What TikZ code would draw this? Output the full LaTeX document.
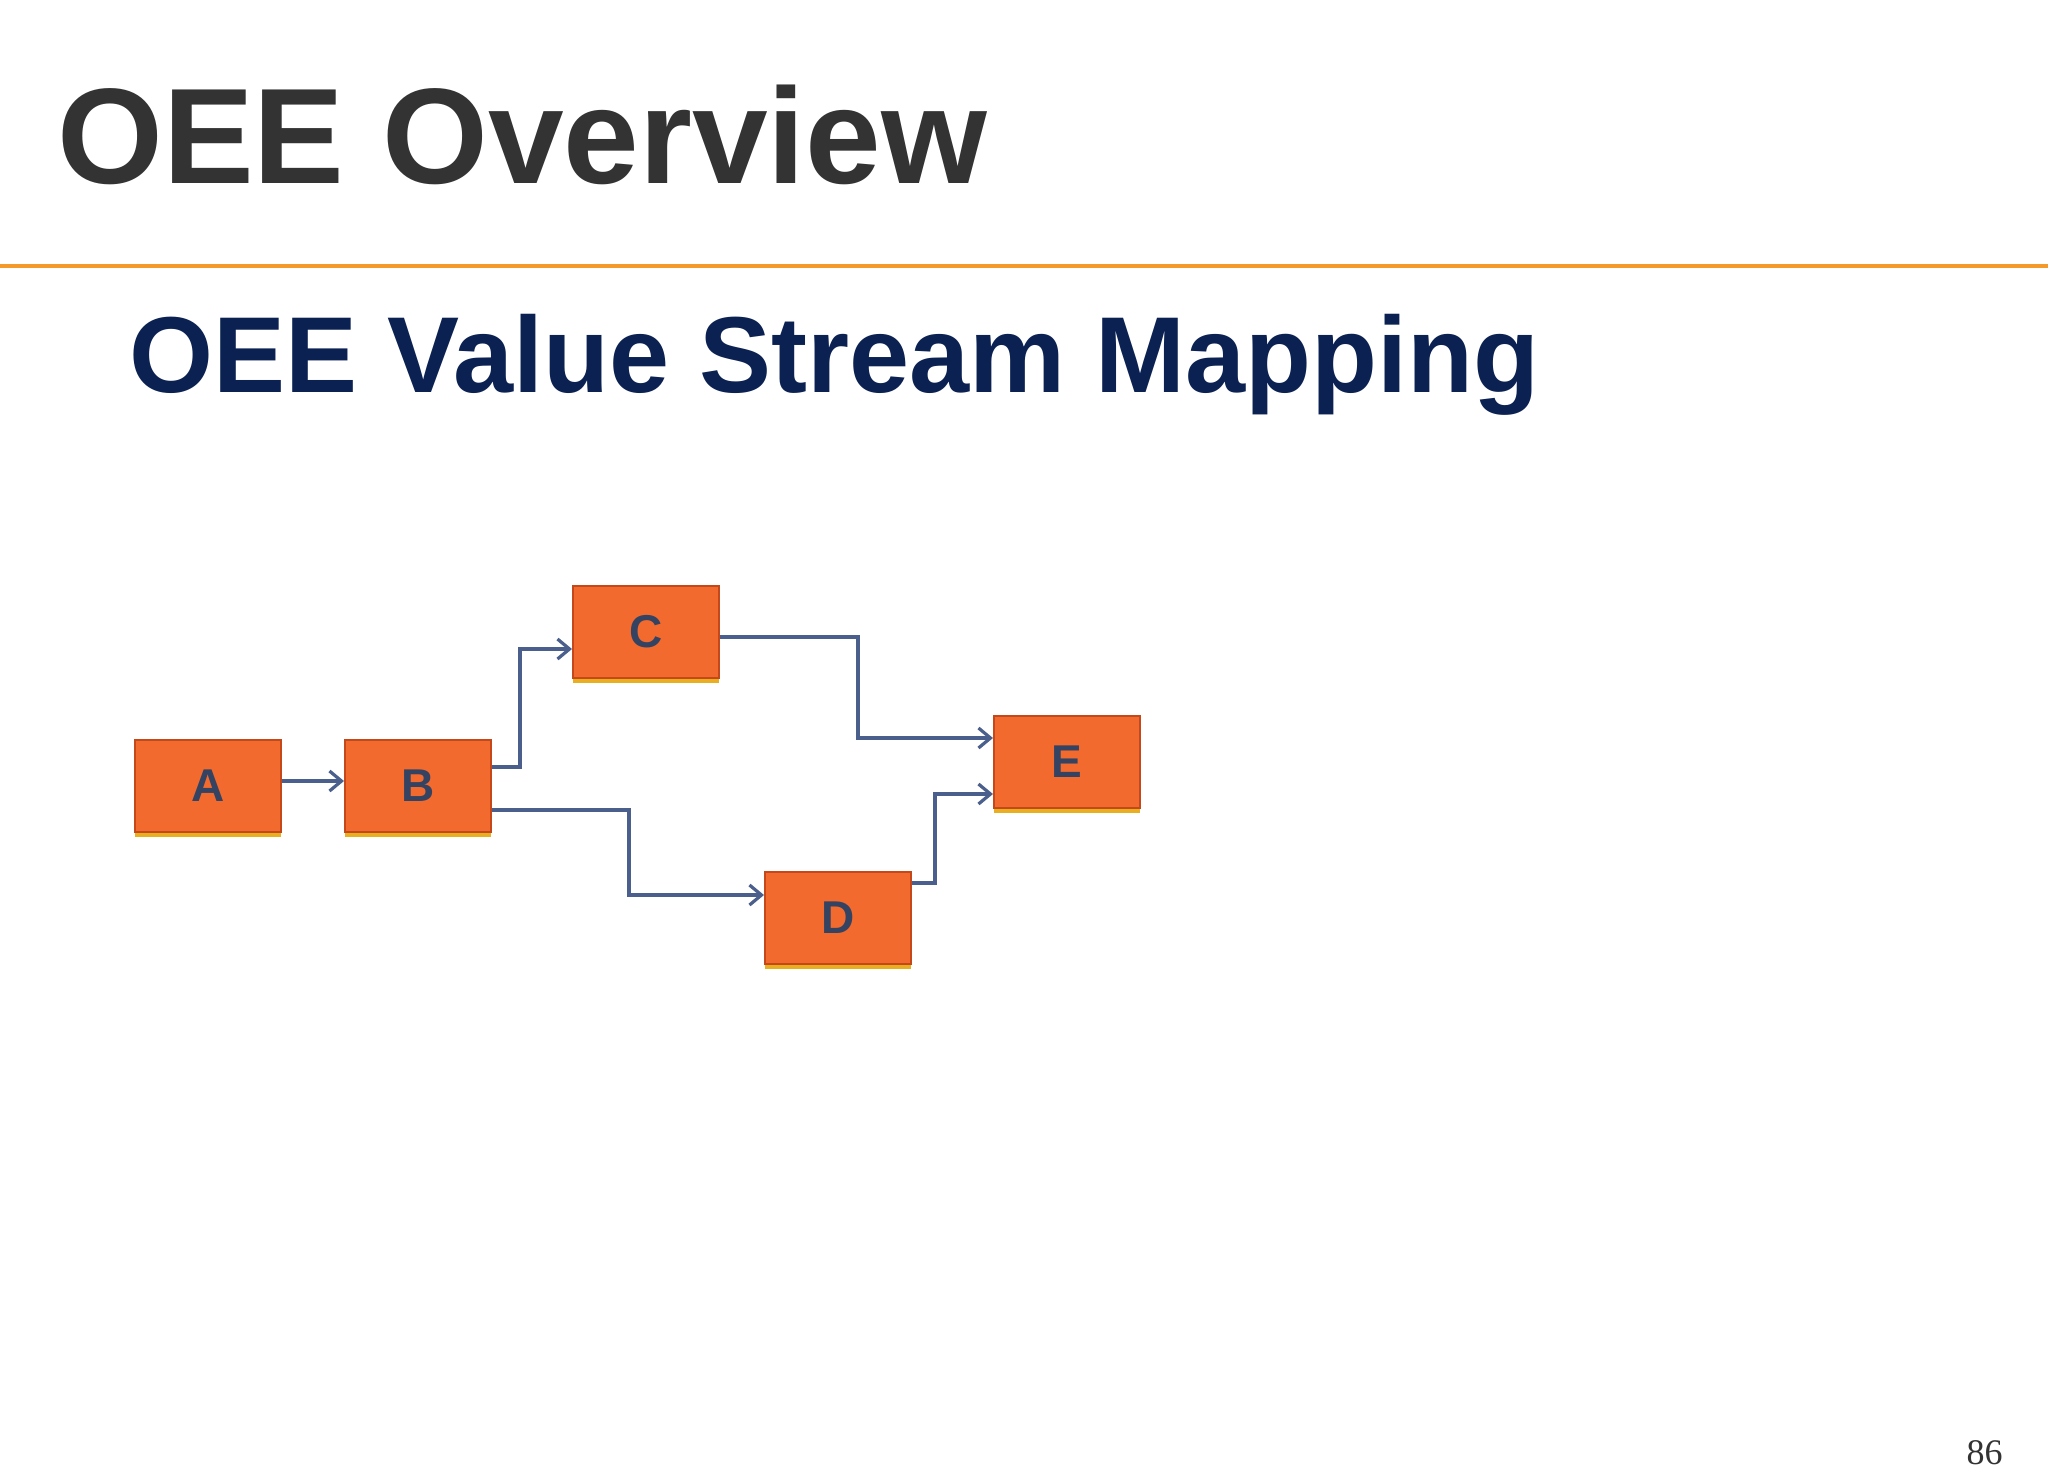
\documentclass[tikz,border=0pt]{standalone}
\usepackage{fontspec}
\setmainfont{Liberation Sans}
\newfontfamily\numfont{Liberation Serif}
\usetikzlibrary{arrows.meta}
\definecolor{boxor}{HTML}{F26A2E}
\definecolor{boxdk}{HTML}{C4481A}
\definecolor{gold}{HTML}{E8B020}
\definecolor{linec}{HTML}{4A5F8C}
\definecolor{navy}{HTML}{0B2152}
\definecolor{ttl}{HTML}{333333}
\definecolor{rule}{HTML}{F39A2B}
\tikzset{
 stepbox/.style={minimum width=73pt,minimum height=46pt,inner sep=0pt,fill=boxor,draw=boxdk,line width=1pt,
   font=\fontsize{23}{23}\selectfont\bfseries,text=linec!70!black},
 conn/.style={draw=linec,line width=2pt,-{Straight Barb[length=6pt,width=10pt,line width=1.6pt]}}
}
\begin{document}
\begin{tikzpicture}[x=0.5pt,y=-0.5pt]
\useasboundingbox (0,0) rectangle (2048,1478);
\fill[white] (0,0) rectangle (2048,1478);
\node[anchor=base west,inner sep=0pt,text=ttl,font=\fontsize{68}{68}\selectfont\bfseries] (title) at (57,183) {OEE Overview};
\fill[rule] (0,264) rectangle (2048,268);
\node[anchor=base west,inner sep=0pt,text=navy,font=\fontsize{54}{54}\selectfont\bfseries] (sub) at (129,392) {OEE Value Stream Mapping};
\foreach \n/\x/\y in {A/208/790,B/418/790,C/646/636,E/1067/766,D/838/922}{
 \fill[gold] (\x-73,\y+38) rectangle (\x+73,\y+47);
 \node[stepbox] (\n) at (\x,\y-4) {\n};
}
\draw[conn] (A.east |- 0,781) -- (B.west |- 0,781);
\draw[conn] (B.east |- 0,767) -- (520,767) -- (520,649) -- (C.west |- 0,649);
\draw[conn] (C.east |- 0,637) -- (858,637) -- (858,738) -- (E.west |- 0,738);
\draw[conn] (B.east |- 0,810) -- (629,810) -- (629,895) -- (D.west |- 0,895);
\draw[conn] (D.east |- 0,883) -- (935,883) -- (935,794) -- (E.west |- 0,794);
\node[anchor=base east,inner sep=0pt,font=\numfont\fontsize{18}{18}\selectfont,text=ttl] (pg) at (2003,1464) {86};
\end{tikzpicture}
\end{document}
